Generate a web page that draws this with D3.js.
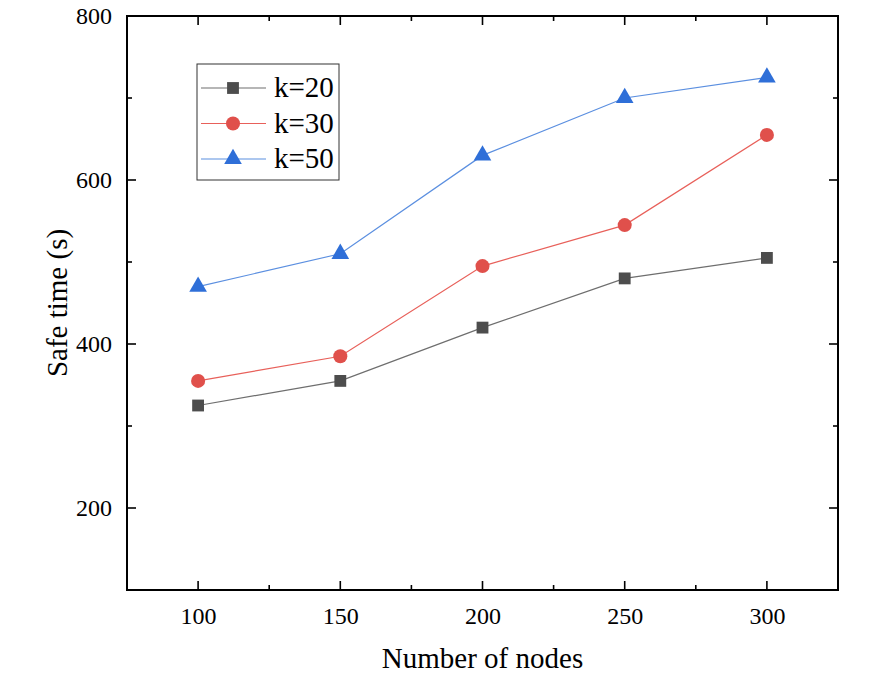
<!DOCTYPE html>
<html><head><meta charset="utf-8">
<script src="https://cdn.jsdelivr.net/npm/d3@7"></script>
<style>body{margin:0;background:#fff}svg{display:block}</style>
</head><body>
<svg id="chart" width="888" height="680"></svg>
<script>
const nodes = [100, 150, 200, 250, 300];
const k20 = [325, 355, 420, 480, 505];
const k30 = [355, 385, 495, 545, 655];
const k50 = [470, 510, 630, 700, 725];
const seriesNames = ["k=20", "k=30", "k=50"];
const xTicks = [100, 150, 200, 250, 300];
const yTicks = [200, 400, 600, 800];

const series = [
  {name: seriesNames[0], values: k20, line: "#6e6e6e", fill: "#4d4d4d", shape: d3.symbolSquare, size: 140, dy: 0},
  {name: seriesNames[1], values: k30, line: "#e8605a", fill: "#e0504b", shape: d3.symbolCircle, size: 155, dy: 0},
  {name: seriesNames[2], values: k50, line: "#5b8fe0", fill: "#2f6fd8", shape: d3.symbolTriangle, size: 135, dy: 0}
];

const L = 127, R = 838, T = 16, B = 590;
const svg = d3.select("#chart");
const font = "'Liberation Serif','Times New Roman',serif";
const x = d3.scaleLinear().domain([75, 325]).range([L, R]);
const y = d3.scaleLinear().domain([100, 800]).range([B, T]);

const xMinor = d3.range(75, 326, 25);
const yMinor = d3.range(100, 801, 100);

const g = svg.append("g").attr("stroke", "#000").attr("stroke-width", 1.6);
xMinor.forEach(v => {
  const len = xTicks.includes(v) ? 9 : 5;
  g.append("line").attr("x1", x(v)).attr("x2", x(v)).attr("y1", B).attr("y2", B - len);
  g.append("line").attr("x1", x(v)).attr("x2", x(v)).attr("y1", T).attr("y2", T + len);
});
yMinor.forEach(v => {
  const len = yTicks.includes(v) ? 9 : 5;
  g.append("line").attr("y1", y(v)).attr("y2", y(v)).attr("x1", L).attr("x2", L + len);
  g.append("line").attr("y1", y(v)).attr("y2", y(v)).attr("x1", R).attr("x2", R - len);
});
svg.append("rect").attr("x", L).attr("y", T).attr("width", R - L).attr("height", B - T)
  .attr("fill", "none").attr("stroke", "#000").attr("stroke-width", 2);

const xAxis = svg.append("g").attr("transform", `translate(0,${B})`)
  .call(d3.axisBottom(x).tickValues(xTicks).tickSize(0).tickPadding(17));
xAxis.select(".domain").remove();
xAxis.selectAll("text").attr("font-family", font).attr("font-size", 24).attr("fill", "#000");

const yAxis = svg.append("g").attr("transform", `translate(${L},0)`)
  .call(d3.axisLeft(y).tickValues(yTicks).tickSize(0).tickPadding(15));
yAxis.select(".domain").remove();
yAxis.selectAll("text").attr("font-family", font).attr("font-size", 24).attr("fill", "#000");

svg.append("text").attr("x", (L + R) / 2).attr("y", 668).attr("text-anchor", "middle")
  .attr("font-family", font).attr("font-size", 29).text("Number of nodes");
svg.append("text").attr("transform", `translate(67,${(T + B) / 2}) rotate(-90)`).attr("text-anchor", "middle")
  .attr("font-family", font).attr("font-size", 29).text("Safe time (s)");

const line = d3.line().x((d, i) => x(nodes[i])).y(d => y(d));
series.forEach(s => {
  svg.append("path").datum(s.values).attr("d", line).attr("fill", "none")
    .attr("stroke", s.line).attr("stroke-width", 1.2);
  svg.append("g").selectAll("path").data(s.values).join("path")
    .attr("transform", (d, i) => `translate(${x(nodes[i])},${y(d) + s.dy})`)
    .attr("d", d3.symbol().type(s.shape).size(s.size))
    .attr("fill", s.fill);
});

const lg = svg.append("g");
lg.append("rect").attr("x", 197).attr("y", 64).attr("width", 142).attr("height", 116)
  .attr("fill", "#fff").attr("stroke", "#333").attr("stroke-width", 1);
series.forEach((s, i) => {
  const cy = 88 + i * 35.5;
  lg.append("line").attr("x1", 201).attr("x2", 266).attr("y1", cy).attr("y2", cy)
    .attr("stroke", s.line).attr("stroke-width", 1.2);
  lg.append("path").attr("transform", `translate(233,${cy + s.dy})`)
    .attr("d", d3.symbol().type(s.shape).size(s.size)).attr("fill", s.fill);
  lg.append("text").attr("x", 274).attr("y", cy + 9).attr("font-family", font).attr("font-size", 29)
    .text(s.name);
});
</script>
</body></html>
